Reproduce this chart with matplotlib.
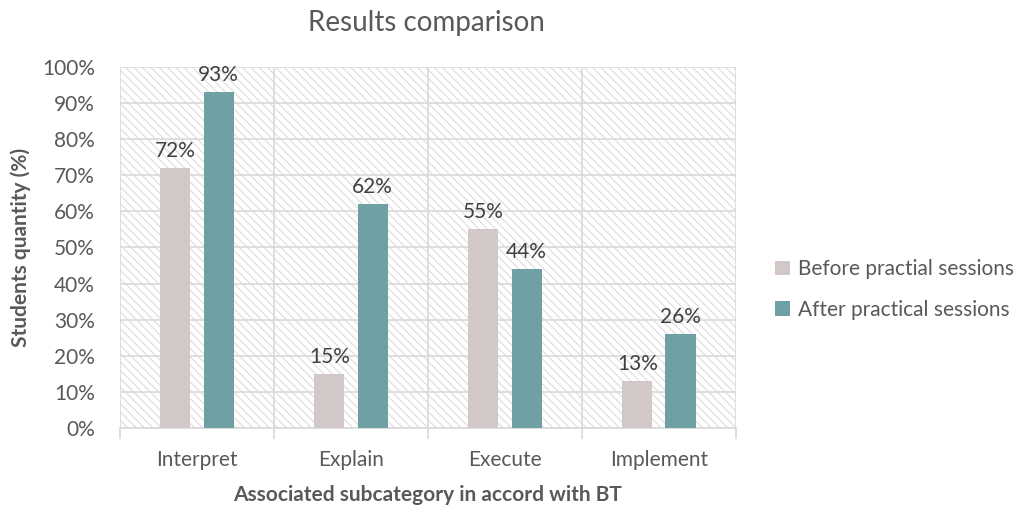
import matplotlib.pyplot as plt
import numpy as np
from matplotlib.patches import Rectangle

plt.rcParams['font.family'] = ['Lato', 'DejaVu Sans']
plt.rcParams['hatch.linewidth'] = 0.8

categories = ['Interpret', 'Explain', 'Execute', 'Implement']
before = [72, 15, 55, 13]
after = [93, 62, 44, 26]
series_names = ['Before practial sessions', 'After practical sessions']
c_before = '#d2c8c8'
c_after = '#6fa0a3'
txt = '#595959'
grid = '#d9d9d9'

fig = plt.figure(figsize=(10.22, 5.08), dpi=100)
ax = fig.add_axes([0.1174, 0.1575, 0.6027, 0.7106])

x = np.arange(len(categories))
w = 0.195
off = 0.14
b1 = ax.bar(x - off, before, w, color=c_before, label=series_names[0], zorder=3)
b2 = ax.bar(x + off, after, w, color=c_after, label=series_names[1], zorder=3)

for bars, vals in ((b1, before), (b2, after)):
    for r, v in zip(bars, vals):
        ax.text(r.get_x() + r.get_width() / 2, v + 2, f'{v}%', ha='center', va='bottom',
                fontsize=15, color='#404040', zorder=4)

# hatched background
ax.add_patch(Rectangle((0, 0), 1, 1, transform=ax.transAxes, facecolor='white',
                       edgecolor='#dcdcdc', hatch='\\\\\\\\', linewidth=0, zorder=0))

ax.set_xlim(-0.5, 3.5)
ax.set_ylim(0, 100)
ax.set_yticks(range(0, 101, 10))
ax.set_yticklabels([f'{v}%' for v in range(0, 101, 10)])
ax.set_xticks(x)
ax.set_xticklabels(categories)
ax.set_xticks(np.arange(-0.5, 4, 1), minor=True)
ax.tick_params(axis='x', which='major', length=0, pad=16, labelsize=15, labelcolor=txt)
ax.tick_params(axis='x', which='minor', length=8, color=grid, width=1.2)
ax.tick_params(axis='y', length=0, labelsize=15, labelcolor=txt, pad=18)

ax.grid(axis='y', color=grid, linewidth=1.2, zorder=1)
ax.grid(axis='x', which='minor', color=grid, linewidth=1.2, zorder=1)
ax.set_axisbelow(True)
for s in ['top', 'right', 'left']:
    ax.spines[s].set_visible(False)
ax.spines['bottom'].set_color(grid)
ax.spines['bottom'].set_linewidth(1.2)

ax.set_ylabel('Students quantity (%)', fontsize=15, fontweight='bold', color=txt, labelpad=8)
ax.set_xlabel('Associated subcategory in accord with BT', fontsize=15, fontweight='bold',
              color=txt, labelpad=11)
fig.text(0.417, 0.955, 'Results comparison', ha='center', va='center', fontsize=20, color=txt)

leg = fig.legend(handles=[b1, b2], loc='center left', bbox_to_anchor=(0.74, 0.43),
                 frameon=False, fontsize=15, handlelength=0.7, handleheight=0.7,
                 labelspacing=1.0, handletextpad=0.4)
for t in leg.get_texts():
    t.set_color(txt)

plt.savefig('out.png', dpi=100)
